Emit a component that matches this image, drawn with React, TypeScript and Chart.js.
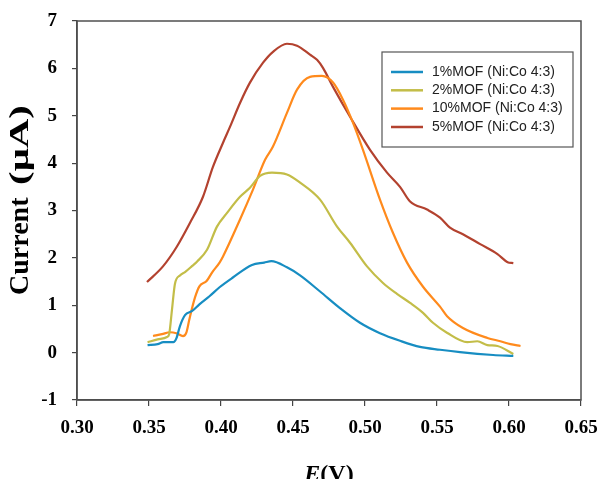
import React, { useEffect, useRef } from "react";
import { Chart, registerables } from "chart.js";

Chart.register(...registerables);

const seriesLabels = [
  "1%MOF (Ni:Co 4:3)",
  "2%MOF (Ni:Co 4:3)",
  "10%MOF (Ni:Co 4:3)",
  "5%MOF (Ni:Co 4:3)",
];
const seriesColors = ["#178dc2", "#c3bd48", "#ff8a1c", "#b3422f"];

const xTicks = [0.3, 0.35, 0.4, 0.45, 0.5, 0.55, 0.6, 0.65];
const yTicks = [-1, 0, 1, 2, 3, 4, 5, 6, 7];

const mof1E = [0.349, 0.356, 0.36, 0.367, 0.369, 0.3715, 0.375, 0.38, 0.385, 0.392, 0.399, 0.408, 0.4215, 0.43, 0.435, 0.4458, 0.4549, 0.4688, 0.4826, 0.4965, 0.5104, 0.5243, 0.5382, 0.5521, 0.566, 0.589, 0.603];
const mof1I = [0.16, 0.18, 0.22, 0.22, 0.3, 0.56, 0.79, 0.88, 1.02, 1.19, 1.38, 1.58, 1.85, 1.9, 1.93, 1.8, 1.63, 1.29, 0.94, 0.63, 0.41, 0.25, 0.12, 0.06, 0.01, -0.05, -0.07];

const mof2E = [0.349, 0.356, 0.3625, 0.364, 0.366, 0.368, 0.3715, 0.375, 0.38, 0.3833, 0.3903, 0.3972, 0.4042, 0.4132, 0.4201, 0.4271, 0.4354, 0.4458, 0.4549, 0.4688, 0.4806, 0.4896, 0.5014, 0.5125, 0.5222, 0.5313, 0.5403, 0.5472, 0.5569, 0.571, 0.578, 0.585, 0.592, 0.603];
const mof2I = [0.22, 0.28, 0.33, 0.39, 0.92, 1.45, 1.63, 1.7, 1.83, 1.92, 2.17, 2.66, 2.95, 3.29, 3.48, 3.73, 3.8, 3.76, 3.59, 3.23, 2.66, 2.32, 1.82, 1.47, 1.24, 1.05, 0.84, 0.63, 0.42, 0.22, 0.24, 0.16, 0.14, -0.03];

const mof10E = [0.3528, 0.359, 0.3646, 0.369, 0.3736, 0.376, 0.378, 0.382, 0.385, 0.39, 0.394, 0.399, 0.4014, 0.4132, 0.4222, 0.4306, 0.4361, 0.4458, 0.4528, 0.4618, 0.4701, 0.4778, 0.4847, 0.4917, 0.4986, 0.5104, 0.5194, 0.5292, 0.5403, 0.5521, 0.557, 0.568, 0.585, 0.594, 0.601, 0.608];
const mof10I = [0.35, 0.39, 0.43, 0.41, 0.35, 0.43, 0.7, 1.17, 1.4, 1.51, 1.7, 1.9, 2.03, 2.81, 3.44, 4.07, 4.35, 5.06, 5.55, 5.82, 5.84, 5.7, 5.34, 4.85, 4.28, 3.23, 2.53, 1.9, 1.39, 0.97, 0.77, 0.52, 0.31, 0.24, 0.18, 0.14];

const mof5E = [0.3486, 0.3597, 0.3694, 0.3785, 0.3875, 0.3944, 0.4014, 0.4063, 0.4132, 0.4201, 0.4292, 0.4361, 0.4458, 0.4528, 0.4618, 0.4667, 0.4708, 0.4778, 0.4896, 0.5035, 0.5153, 0.5243, 0.5313, 0.5431, 0.5521, 0.559, 0.568, 0.58, 0.592, 0.599, 0.603];
const mof5I = [1.49, 1.82, 2.24, 2.74, 3.29, 3.92, 4.43, 4.77, 5.27, 5.7, 6.12, 6.35, 6.52, 6.48, 6.29, 6.18, 6.01, 5.61, 4.98, 4.28, 3.8, 3.5, 3.19, 3.02, 2.85, 2.64, 2.5, 2.29, 2.08, 1.91, 1.89];

const seriesE = [mof1E, mof2E, mof10E, mof5E];
const seriesI = [mof1I, mof2I, mof10I, mof5I];

const SERIF = '"Liberation Serif", "Times New Roman", serif';
const SANS = '"Liberation Sans", Arial, sans-serif';

const decorPlugin = {
  id: "decor",
  afterDraw(chart: any) {
    const { ctx, chartArea: a } = chart;
    ctx.save();
    // plot frame
    ctx.strokeStyle = "#505050";
    ctx.lineWidth = 1.5;
    ctx.strokeRect(a.left, a.top, a.right - a.left, a.bottom - a.top);

    // legend box
    const lx = 382, ly = 52, lw = 191, lh = 95;
    ctx.fillStyle = "#ffffff";
    ctx.fillRect(lx, ly, lw, lh);
    ctx.strokeStyle = "#555555";
    ctx.lineWidth = 1.2;
    ctx.strokeRect(lx, ly, lw, lh);
    const rowY = [72, 90.3, 108.6, 127];
    chart.data.datasets.forEach((ds: any, i: number) => {
      const y = rowY[i];
      ctx.strokeStyle = ds.borderColor;
      ctx.lineWidth = 2.5;
      ctx.beginPath();
      ctx.moveTo(391, y);
      ctx.lineTo(423, y);
      ctx.stroke();
      ctx.fillStyle = "#222222";
      ctx.font = `14px ${SANS}`;
      ctx.textAlign = "left";
      ctx.textBaseline = "middle";
      ctx.fillText(ds.label, 432, y);
    });

    // y title: "Current" then a wider "(μA)"
    ctx.save();
    ctx.translate(21, 0);
    ctx.rotate(-Math.PI / 2);
    ctx.fillStyle = "#000";
    ctx.font = `bold 28px ${SERIF}`;
    ctx.textAlign = "left";
    ctx.textBaseline = "middle";
    // rotated coords: x = -pageY
    ctx.fillText("Current", -295, 0);
    const wU = ctx.measureText("(\u03bcA)").width;
    ctx.save();
    ctx.translate(-185, 0);
    ctx.scale(80 / wU, 1);
    ctx.fillText("(\u03bcA)", 0, 0);
    ctx.restore();
    ctx.restore();

    // x title: italic E + (V)
    const fE = `italic bold 24px ${SERIF}`;
    const fV = `bold 24px ${SERIF}`;
    ctx.font = fE;
    const wE = ctx.measureText("E").width;
    ctx.font = fV;
    const wV = ctx.measureText("(V)").width;
    const cx = (a.left + a.right) / 2;
    const sx = cx - (wE + wV) / 2;
    const by = 481;
    ctx.fillStyle = "#000";
    ctx.textAlign = "left";
    ctx.textBaseline = "alphabetic";
    ctx.font = fE;
    ctx.fillText("E", sx, by);
    ctx.font = fV;
    ctx.fillText("(V)", sx + wE, by);
    ctx.restore();
  },
};

export default function App() {
  const ref = useRef<HTMLCanvasElement | null>(null);
  useEffect(() => {
    if (!ref.current) return;
    const datasets = seriesLabels.map((label, i) => ({
      label,
      data: seriesE[i].map((x, j) => ({ x, y: seriesI[i][j] })),
      borderColor: seriesColors[i],
      backgroundColor: seriesColors[i],
      borderWidth: 2.2,
      pointRadius: 0,
      fill: false,
      cubicInterpolationMode: "monotone" as const,
    }));
    const tickFont = { family: SERIF, size: 19, weight: "bold" as const };
    const chart = new Chart(ref.current, {
      type: "line",
      data: { datasets },
      options: {
        animation: false,
        responsive: false,
        devicePixelRatio: 1,
        layout: { padding: { top: 21, right: 20, left: 0, bottom: 0 } },
        plugins: { legend: { display: false }, tooltip: { enabled: false } },
        scales: {
          x: {
            type: "linear",
            min: 0.3,
            max: 0.65,
            afterBuildTicks: (s: any) => {
              s.ticks = xTicks.map((v) => ({ value: v }));
            },
            afterFit: (s: any) => {
              s.height = 79;
              s.paddingLeft = 0;
              s.paddingRight = 0;
            },
            ticks: {
              autoSkip: false,
              maxRotation: 0,
              padding: 11,
              color: "#000",
              font: tickFont,
              callback: (v: any) => Number(v).toFixed(2),
            },
            grid: { drawOnChartArea: false, drawTicks: true, tickLength: 6, color: "#444", lineWidth: 1.2 },
            border: { display: true, color: "#444", width: 1.5 },
          },
          y: {
            type: "linear",
            min: -1,
            max: 7,
            afterBuildTicks: (s: any) => {
              s.ticks = yTicks.map((v) => ({ value: v }));
            },
            afterFit: (s: any) => {
              s.width = 77;
              s.paddingTop = 0;
              s.paddingBottom = 0;
            },
            ticks: {
              autoSkip: false,
              padding: 15,
              color: "#000",
              font: tickFont,
              callback: (v: any) => String(v),
            },
            grid: { drawOnChartArea: false, drawTicks: true, tickLength: 5, color: "#444", lineWidth: 1.2 },
            border: { display: true, color: "#444", width: 1.5 },
          },
        },
      },
      plugins: [decorPlugin],
    });
    return () => chart.destroy();
  }, []);
  return (
    <div style={{ position: "fixed", left: 0, top: 0, width: 601, height: 479, background: "#fff" }}>
      <canvas ref={ref} width={601} height={479} style={{ width: 601, height: 479, display: "block" }} />
    </div>
  );
}
